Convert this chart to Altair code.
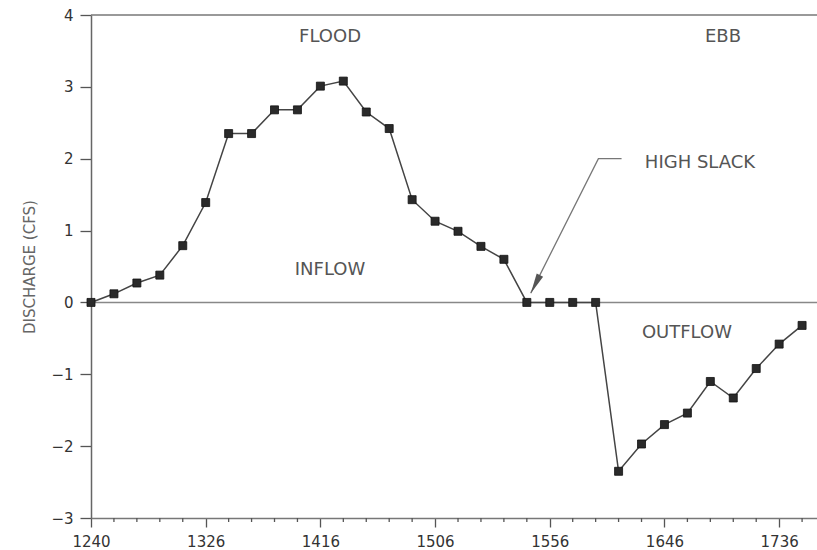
import altair as alt
import pandas as pd

# ---- data ----
sample_index = list(range(32))
discharge = [0.0, 0.12, 0.27, 0.38, 0.79, 1.39, 2.35, 2.35, 2.68, 2.68,
             3.01, 3.08, 2.65, 2.42, 1.43, 1.13, 0.99, 0.78, 0.60, 0.0,
             0.0, 0.0, 0.0, -2.35, -1.97, -1.70, -1.54, -1.10, -1.33, -0.92,
             -0.58, -0.32]
tick_labels = ["1240", "1326", "1416", "1506", "1556", "1646", "1736"]
major_positions = [0, 5, 10, 15, 20, 25, 30]
minor_positions = [i for i in sample_index if i % 5 != 0]

note_text = ["FLOOD", "EBB", "HIGH  SLACK", "INFLOW", "OUTFLOW"]
note_x = [10.42, 27.55, 26.55, 10.42, 25.98]
note_y = [3.70, 3.70, 1.94, 0.45, -0.43]

arrow_x = [23.13, 22.12, 19.17]
arrow_y = [2.0, 2.0, 0.13]
head_x = [19.37]
head_y = [0.252]

X_DOMAIN = [0, 31.65]
Y_DOMAIN = [-3, 4]
FONT = "DejaVu Sans"

df = pd.DataFrame({"i": sample_index, "q": discharge})
notes = pd.DataFrame({"x": note_x, "y": note_y, "t": note_text})
arrow = pd.DataFrame({"x": arrow_x, "y": arrow_y, "o": list(range(len(arrow_x)))})
head = pd.DataFrame({"x": head_x, "y": head_y})
frame = pd.DataFrame({"x": [X_DOMAIN[0]], "x2": [X_DOMAIN[1]], "y0": [0], "ytop": [Y_DOMAIN[1]]})
minor = pd.DataFrame({"x": minor_positions, "y": [Y_DOMAIN[0]] * len(minor_positions)})

label_array = "[" + ",".join("'" + t + "'" for t in tick_labels) + "]"
label_expr = f"{label_array}[round(datum.value / 5)]"

xscale = alt.Scale(domain=X_DOMAIN, nice=False, zero=False)
yscale = alt.Scale(domain=Y_DOMAIN, nice=False, zero=False)

x_axis = alt.Axis(
    values=major_positions, labelExpr=label_expr, title=None, grid=False,
    tickSize=9, tickColor="#555", tickWidth=1.3, domainColor="#777", domainWidth=1.5,
    labelFont=FONT, labelFontSize=15, labelColor="#333", labelPadding=7,
    labelFlush=False, labelOverlap=False,
)
y_axis = alt.Axis(
    values=list(range(-3, 5)), format="d", title="DISCHARGE (CFS)", grid=False,
    tickSize=11, tickColor="#555", tickWidth=1.3, domainColor="#666", domainWidth=1.5,
    labelFont=FONT, labelFontSize=15, labelColor="#333", labelPadding=7,
    labelFlush=False,
    titleFont=FONT, titleFontSize=15, titleFontWeight="normal", titleColor="#666",
    titleX=-62, titleY=251.5, titleAngle=-90, titleAlign="center", titleBaseline="middle",
)

base = alt.Chart(df)

line = base.mark_line(color="#444", strokeWidth=1.5).encode(
    x=alt.X("i:Q", scale=xscale, axis=x_axis),
    y=alt.Y("q:Q", scale=yscale, axis=y_axis),
)
pts = base.mark_point(shape="square", size=64, filled=True, color="#2a2a2a",
                      stroke="#111", strokeWidth=0.8, opacity=1).encode(
    x=alt.X("i:Q", scale=xscale), y=alt.Y("q:Q", scale=yscale)
)

minor_ticks = alt.Chart(minor).mark_tick(
    orient="vertical", size=4, thickness=1.3, color="#555", yOffset=2, opacity=1
).encode(x=alt.X("x:Q", scale=xscale), y=alt.Y("y:Q", scale=yscale))

zero_line = alt.Chart(frame).mark_rule(color="#888", strokeWidth=1.5).encode(
    x=alt.X("x:Q", scale=xscale), x2="x2:Q", y=alt.Y("y0:Q", scale=yscale)
)
top_line = alt.Chart(frame).mark_rule(color="#777", strokeWidth=1.5).encode(
    x=alt.X("x:Q", scale=xscale), x2="x2:Q", y=alt.Y("ytop:Q", scale=yscale)
)

texts = alt.Chart(notes).mark_text(font=FONT, fontSize=18, color="#555",
                                   align="center", baseline="middle").encode(
    x=alt.X("x:Q", scale=xscale), y=alt.Y("y:Q", scale=yscale), text="t:N"
)

arrow_line = alt.Chart(arrow).mark_line(color="#777", strokeWidth=1.3).encode(
    x=alt.X("x:Q", scale=xscale), y=alt.Y("y:Q", scale=yscale), order="o:Q"
)
arrow_head = alt.Chart(head).mark_point(
    shape="M0,1L-0.35,-1L0.35,-1Z", size=420, filled=True, color="#555",
    angle=26.6, opacity=1
).encode(x=alt.X("x:Q", scale=xscale), y=alt.Y("y:Q", scale=yscale))

chart = alt.layer(
    zero_line, top_line, minor_ticks, arrow_line, arrow_head, line, pts, texts
).properties(
    width=726, height=503,
    autosize=alt.AutoSizeParams(type="none"),
    padding={"left": 91, "top": 15, "right": 0, "bottom": 32},
    background="white",
).configure_view(stroke=None)

chart.save("out.html", embed_options={"renderer": "svg", "actions": False})
